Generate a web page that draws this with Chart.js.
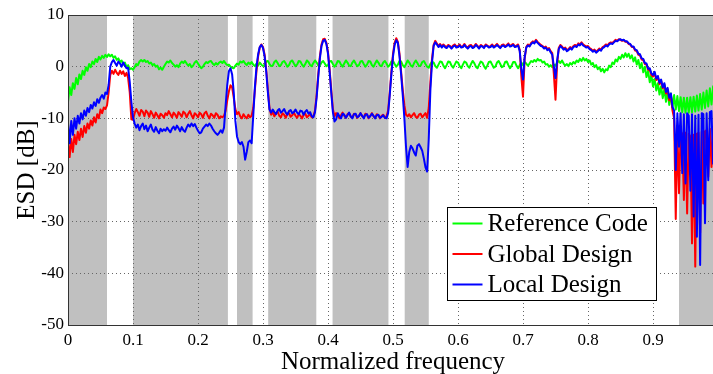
<!DOCTYPE html>
<html>
<head>
<meta charset="utf-8">
<title>ESD</title>
<script src="https://cdn.jsdelivr.net/npm/chart.js@4/dist/chart.umd.min.js"></script>
<style>
  html, body { margin: 0; padding: 0; overflow: hidden; background: #fff; }
  #wrap { width: 730px; height: 374px; }
</style>
</head>
<body>
<div id="wrap"><canvas id="esd-chart" width="730" height="374"></canvas></div>
<script>
// sampling step of the frequency axis (values below are read every 0.0025)
const STEP = 0.0025;

const seriesLabels = ["Reference Code", "Global Design", "Local Design"];

// Reference Code (green)
const green = [
  -6.8,-4.0,-5.5,-3.2,-4.3,-2.2,-3.4,-1.5,-2.4,-0.8,-1.6,-0.1,-0.8,0.5,-0.1,1.0,0.5,1.5,0.9,1.9,
  1.4,2.1,1.7,2.3,1.9,2.4,2.0,2.3,1.7,2.0,1.3,1.6,0.9,1.2,0.4,0.8,0.0,0.3,-0.5,-0.3,
  -0.6,-0.1,0.5,0.3,1.0,1.3,1.0,1.3,0.9,1.1,0.6,0.8,0.3,0.5,0.0,0.2,-0.5,-0.2,-0.6,0.0,
  0.5,1.0,0.8,1.2,0.7,0.4,0.0,0.3,-0.1,0.6,1.0,0.7,1.1,0.6,0.2,0.5,-0.1,0.2,0.8,1.1,
  0.6,0.1,-0.3,0.0,0.5,0.9,0.7,1.0,1.1,0.6,0.3,0.7,0.4,0.8,1.0,0.7,1.1,0.6,0.3,0.4,
  0.0,-0.2,-0.3,0.2,0.6,0.4,1.0,0.8,1.1,0.6,0.3,0.8,0.5,0.9,0.4,0.1,0.6,0.2,0.8,0.4,
  0.1,0.4,1.0,1.1,0.5,0.1,0.2,0.9,1.2,0.7,0.1,0.3,0.9,1.1,0.6,0.0,0.3,1.0,1.2,0.6,
  0.1,0.4,1.1,1.0,0.4,0.0,0.5,1.2,0.9,0.3,0.1,0.7,1.2,0.8,0.2,0.2,0.8,1.1,0.6,0.1,
  0.3,1.0,1.1,0.5,0.0,0.4,1.1,1.0,0.4,0.0,0.6,1.2,0.8,0.2,0.1,0.8,1.2,0.6,0.1,0.3,
  1.0,1.1,0.5,0.0,0.4,1.1,1.0,0.3,0.0,0.6,1.2,0.8,0.2,0.1,0.8,1.1,0.6,0.0,0.3,1.0,
  1.1,0.5,0.0,0.4,1.1,1.0,0.3,-0.1,0.5,1.2,0.8,0.2,0.0,0.7,1.2,0.7,0.1,0.2,0.9,1.1,
  0.5,0.0,-0.2,0.5,1.0,0.8,0.1,-0.2,0.4,1.0,0.9,0.2,-0.3,0.3,1.0,0.9,0.2,-0.2,0.4,1.0,
  0.8,0.1,-0.3,0.4,1.0,0.8,0.1,-0.2,0.5,1.1,0.7,0.0,-0.3,0.4,1.0,0.8,0.1,-0.4,0.2,0.9,
  1.0,0.4,-0.2,0.0,0.8,1.1,0.5,-0.1,0.1,0.9,1.0,0.3,-0.3,0.2,0.9,0.9,0.2,-0.3,0.3,0.8,
  0.3,0.9,0.6,0.2,0.6,1.1,0.9,1.3,1.0,1.5,1.2,1.3,0.8,1.0,0.4,0.5,0.0,0.3,-0.1,0.4,
  0.2,0.8,1.1,0.7,1.2,0.6,0.2,0.5,0.1,0.7,0.4,0.9,0.6,1.2,0.9,1.5,1.1,1.7,1.2,1.5,
  0.9,1.2,0.4,0.7,-0.1,0.3,-0.5,-0.1,-0.9,-0.4,-1.1,-0.5,-0.7,0.2,-0.1,0.8,0.5,1.4,1.0,1.9,
  1.5,2.3,1.8,2.6,1.9,2.5,1.6,2.2,1.0,1.8,0.4,1.3,-0.3,0.7,-1.1,0.0,-2.0,-0.8,-3.0,-1.6,
  -3.8,-2.4,-4.6,-3.2,-5.4,-3.8,-6.1,-4.3,-6.8,-4.8,-7.4,-5.2,-7.9,-5.5,-8.3,-5.7,-8.6,-5.9,-8.8,-6.0,
  -8.9,-6.0,-8.9,-5.9,-8.8,-5.8,-8.7,-5.6,-8.5,-5.3,-8.3,-5.0,-8.0,-4.6,-7.7,-4.2,-7.3,-3.8,-7.0,-3.5,-6.8
];

// Global Design (red)
const red = [
  -14.5,-17.5,-14.0,-16.5,-13.2,-15.0,-12.6,-14.2,-12.0,-13.6,-11.5,-12.8,-11.0,-12.0,-10.4,-11.4,-9.8,-10.8,-9.2,-10.0,
  -8.3,-9.0,-7.9,-8.2,-7.5,-5.0,-1.6,-0.8,-1.4,-0.6,-1.2,-1.6,-0.8,-1.4,-0.9,-1.8,-1.2,-2.2,-5.0,-10.2,
  -10.3,-9.0,-8.2,-8.8,-9.5,-8.4,-8.7,-9.6,-8.5,-8.9,-9.7,-8.6,-9.2,-9.9,-8.9,-9.4,-10.0,-9.1,-9.4,-9.9,
  -9.0,-9.4,-8.6,-9.2,-9.8,-8.9,-9.3,-9.9,-8.8,-9.2,-9.7,-8.7,-9.0,-9.8,-9.1,-8.6,-9.4,-10.0,-9.0,-9.3,
  -9.8,-8.9,-9.2,-9.9,-9.0,-8.7,-9.5,-10.0,-9.1,-9.4,-9.9,-9.0,-9.3,-10.0,-9.6,-9.8,-9.5,-8.5,-6.5,-4.8,
  -3.6,-4.0,-6.0,-8.2,-9.2,-8.8,-9.6,-10.0,-9.2,-9.7,-10.0,-9.3,-9.8,-9.5,-8.0,-4.5,-0.8,2.0,3.7,4.3,
  3.8,2.3,-0.5,-4.5,-8.0,-9.3,-8.8,-9.6,-9.0,-8.7,-9.5,-9.8,-9.0,-9.3,-9.9,-9.1,-9.0,-9.7,-9.4,-8.9,
  -9.5,-9.9,-9.2,-9.5,-10.0,-9.3,-9.1,-9.8,-9.5,-9.2,-9.8,-9.6,-8.5,-5.5,-1.5,2.0,4.3,5.3,5.4,4.6,
  2.8,-0.5,-4.5,-8.2,-9.6,-9.0,-9.3,-10.0,-9.4,-8.9,-9.5,-9.9,-9.2,-9.0,-9.7,-9.8,-9.1,-9.3,-9.9,-9.5,
  -9.0,-9.6,-9.8,-9.1,-9.3,-10.0,-9.5,-9.0,-9.6,-9.9,-9.2,-9.4,-10.0,-9.5,-9.3,-9.9,-9.6,-8.5,-5.0,-1.0,
  2.5,4.6,5.5,4.8,2.5,-1.0,-4.5,-7.5,-9.3,-9.6,-9.2,-9.8,-9.4,-9.0,-9.7,-9.9,-9.3,-9.1,-9.8,-9.4,
  -9.0,-9.9,-8.0,-3.0,1.5,4.2,5.0,4.5,4.0,4.4,3.9,4.3,4.0,3.8,4.2,4.0,3.7,4.1,4.3,3.9,
  4.0,4.3,3.8,4.0,4.4,3.9,3.7,4.1,4.2,3.8,4.0,4.4,4.0,3.7,4.2,4.0,3.8,4.3,4.1,3.8,
  4.0,4.3,3.9,4.1,4.4,4.0,3.7,4.2,4.3,3.9,4.2,4.5,4.0,4.2,4.4,3.9,4.1,4.3,3.2,-2.0,
  -5.8,1.5,3.8,4.3,4.0,4.6,4.9,4.7,5.2,4.8,4.5,4.2,4.0,3.7,3.9,3.4,3.6,3.0,2.6,-1.5,
  -6.4,0.5,3.6,4.2,3.9,3.5,3.7,3.2,3.4,3.8,3.5,4.0,4.2,4.0,4.5,4.3,4.7,4.3,4.1,3.9,
  4.0,3.6,3.4,3.1,3.3,2.9,3.2,3.5,3.3,3.8,4.0,4.3,4.1,4.5,4.7,4.6,4.9,5.2,5.0,5.3,
  5.2,5.0,5.1,4.8,4.8,4.4,4.3,3.8,3.8,3.1,3.0,2.3,2.2,1.4,1.3,0.5,0.4,-0.6,-0.6,-1.6,
  -1.9,-1.2,-2.6,-2.0,-3.4,-2.7,-4.2,-3.5,-5.2,-4.4,-6.5,-5.6,-8.5,-10.0,-29.5,-12.0,-24.5,-12.5,-13.0,-25.8,
  -12.8,-28.4,-13.0,-13.5,-34.2,-13.2,-38.7,-13.0,-12.8,-32.2,-12.6,-26.5,-12.5,-12.3,-21.3,-12.0,-19.4,-11.8,-11.5,-17.0,-11.5
];

// Local Design (blue)
const blue = [
  -10.8,-14.8,-10.5,-13.2,-10.0,-12.0,-9.5,-11.0,-9.0,-10.2,-8.5,-9.5,-8.0,-8.8,-7.4,-8.1,-6.9,-7.6,-6.3,-7.0,
  -6.0,-5.5,-6.2,-5.0,-5.3,-3.5,0.0,0.9,1.3,0.7,0.2,1.0,0.6,0.0,0.8,0.2,-0.3,-0.2,-3.0,-6.8,
  -9.8,-11.0,-11.8,-11.2,-12.3,-11.5,-11.0,-12.1,-11.4,-12.5,-11.8,-11.2,-12.2,-12.6,-11.7,-12.4,-12.9,-12.0,-12.5,-12.1,
  -12.4,-11.8,-12.3,-12.7,-12.0,-11.6,-12.2,-11.4,-11.9,-12.5,-11.7,-12.3,-12.6,-11.8,-11.2,-11.6,-11.0,-11.5,-11.1,-11.8,
  -12.4,-12.9,-12.7,-12.0,-11.6,-11.2,-11.5,-11.0,-11.4,-12.0,-12.5,-12.9,-13.2,-12.8,-12.3,-12.8,-11.8,-7.5,-3.5,-0.9,
  -0.3,-1.5,-5.0,-10.5,-13.5,-14.6,-15.0,-14.6,-15.5,-18.0,-16.5,-14.6,-14.3,-14.8,-9.5,-4.0,0.0,2.4,3.8,4.2,
  3.6,2.0,-1.0,-5.0,-8.3,-8.9,-8.3,-8.8,-9.2,-8.5,-8.2,-8.9,-8.6,-8.2,-8.9,-9.3,-8.6,-8.4,-9.0,-8.8,
  -8.3,-8.9,-9.2,-8.5,-8.6,-9.3,-8.7,-8.4,-9.1,-8.8,-9.6,-9.8,-8.8,-6.0,-2.0,1.6,4.0,5.0,5.2,4.4,
  2.5,-1.0,-5.0,-8.8,-10.6,-10.2,-9.0,-9.6,-10.0,-9.1,-9.3,-9.9,-9.4,-8.9,-9.6,-10.0,-9.2,-9.1,-9.8,-9.6,
  -9.0,-9.5,-10.0,-9.3,-9.2,-9.9,-9.6,-9.1,-9.5,-10.0,-9.4,-9.3,-9.9,-9.7,-9.4,-9.9,-10.0,-9.0,-5.5,-1.5,
  2.0,4.2,5.1,4.6,2.0,-1.5,-5.5,-10.0,-15.5,-19.4,-16.5,-15.3,-15.8,-16.6,-17.2,-15.3,-15.0,-15.6,-16.3,-17.8,
  -19.5,-20.3,-14.0,-4.5,0.8,4.0,4.7,4.3,3.8,4.2,3.7,4.1,3.8,3.6,4.0,3.9,3.5,3.9,4.1,3.7,
  3.8,4.1,3.7,3.8,4.2,3.8,3.5,3.9,4.0,3.6,3.8,4.2,3.9,3.5,4.0,3.9,3.6,4.1,4.0,3.7,
  3.8,4.1,3.7,3.9,4.2,3.9,3.6,4.0,4.1,3.8,4.0,4.3,3.9,4.0,4.2,3.8,3.9,4.1,3.0,-0.5,
  -2.5,1.8,3.7,4.1,3.9,4.4,4.7,4.5,5.0,4.6,4.3,4.0,3.9,3.5,3.7,3.2,3.4,2.8,2.3,0.0,
  -2.2,1.2,3.4,4.0,3.7,3.3,3.5,3.0,3.2,3.6,3.3,3.8,4.0,3.8,4.3,4.1,4.5,4.1,3.9,3.7,
  3.8,3.4,3.2,2.9,3.1,2.7,3.0,3.3,3.1,3.6,3.8,4.1,3.9,4.3,4.5,4.4,4.7,5.0,4.9,5.2,
  5.3,5.1,5.2,4.9,4.9,4.5,4.4,3.9,3.9,3.3,3.2,2.5,2.4,1.6,1.5,0.7,0.6,-0.4,-0.3,-1.3,
  -1.6,-1.0,-2.3,-1.8,-3.1,-2.5,-4.0,-3.2,-4.9,-4.1,-6.0,-5.2,-7.8,-8.5,-20.0,-9.0,-15.5,-9.0,-20.6,-9.2,
  -22.6,-9.0,-9.5,-24.0,-9.2,-29.0,-9.5,-32.9,-9.3,-38.4,-9.0,-9.2,-30.3,-9.0,-22.0,-8.8,-8.6,-18.8,-8.5,-15.0,-8.3
];

// stop bands (shaded grey)
const bandStart = [0, 0.1, 0.26, 0.308, 0.407, 0.518, 0.94];
const bandEnd = [0.06, 0.246, 0.284, 0.382, 0.493, 0.555, 1];

const xTicks = [0, 0.1, 0.2, 0.3, 0.4, 0.5, 0.6, 0.7, 0.8, 0.9, 1];
const yTicks = [-50, -40, -30, -20, -10, 0, 10];

const toPoints = (arr) => arr.map((v, i) => ({ x: i * STEP, y: v }));

Chart.defaults.font.family = "'Liberation Serif', 'Times New Roman', serif";
Chart.defaults.color = "#000";

const bandsPlugin = {
  id: "bands",
  beforeDraw(chart) {
    const { ctx, chartArea, scales } = chart;
    ctx.save();
    ctx.fillStyle = "#c0c0c0";
    for (let i = 0; i < bandStart.length; i++) {
      const x0 = scales.x.getPixelForValue(bandStart[i]);
      const x1 = scales.x.getPixelForValue(bandEnd[i]);
      ctx.fillRect(x0, chartArea.top, x1 - x0, chartArea.bottom - chartArea.top);
    }
    ctx.restore();
  },
  afterDatasetsDraw(chart) {
    const { ctx, chartArea } = chart;
    ctx.save();
    ctx.strokeStyle = "#333";
    ctx.lineWidth = 1;
    ctx.strokeRect(Math.round(chartArea.left) + 0.5, Math.round(chartArea.top) + 0.5,
      Math.round(chartArea.right - chartArea.left), Math.round(chartArea.bottom - chartArea.top));
    ctx.restore();
  },
};

// legend box drawn inside the plot, lower right
const boxLegend = {
  id: "boxLegend",
  afterDraw(chart) {
    const { ctx, chartArea } = chart;
    const w = 209, h = 93;
    const left = Math.round(chartArea.right - 62 - w) + 0.5;
    const top = Math.round(chartArea.bottom - 25 - h) + 0.5;
    ctx.save();
    ctx.fillStyle = "#fff";
    ctx.fillRect(left, top, w, h);
    ctx.strokeStyle = "#000";
    ctx.lineWidth = 1;
    ctx.strokeRect(left, top, w, h);
    ctx.font = "25px 'Liberation Serif', 'Times New Roman', serif";
    ctx.textBaseline = "middle";
    ctx.textAlign = "left";
    chart.data.datasets.forEach((ds, k) => {
      const y = top + 16 + k * 30.5;
      ctx.strokeStyle = ds.borderColor;
      ctx.lineWidth = 2;
      ctx.beginPath();
      ctx.moveTo(left + 5, y);
      ctx.lineTo(left + 35, y);
      ctx.stroke();
      ctx.fillStyle = "#000";
      ctx.fillText(ds.label, left + 40, y + 1);
    });
    ctx.restore();
  },
};

const ctx = document.getElementById("esd-chart").getContext("2d");
new Chart(ctx, {
  type: "line",
  data: {
    datasets: [
      { label: seriesLabels[0], data: toPoints(green), borderColor: "#00ff00", order: 2 },
      { label: seriesLabels[1], data: toPoints(red), borderColor: "#ff0000", order: 1 },
      { label: seriesLabels[2], data: toPoints(blue), borderColor: "#0000ff", order: 0 },
    ],
  },
  options: {
    responsive: false,
    animation: false,
    devicePixelRatio: 1,
    elements: {
      point: { radius: 0 },
      line: { borderWidth: 2, tension: 0, borderJoinStyle: "round", fill: false },
    },
    // right edge of the plot falls just outside the 713px window, like the reference crop
    layout: { padding: { top: 15, right: 12, bottom: 0, left: 0 } },
    plugins: { legend: { display: false }, tooltip: { enabled: false } },
    scales: {
      x: {
        type: "linear",
        min: 0,
        max: 1,
        afterBuildTicks: (s) => { s.ticks = xTicks.map((v) => ({ value: v })); },
        afterFit: (s) => { s.height = 49; },
        ticks: {
          padding: 5,
          maxRotation: 0,
          autoSkip: false,
          font: { size: 17 },
          callback: (v) => String(+v.toFixed(1)),
        },
        grid: { color: "#666", lineWidth: 1, drawTicks: false },
        border: { display: false, dash: [1, 3] },
        title: { display: true, text: "Normalized frequency", font: { size: 25 }, padding: { top: 0, bottom: -3 } },
      },
      y: {
        min: -50,
        max: 10,
        afterBuildTicks: (s) => { s.ticks = yTicks.map((v) => ({ value: v })); },
        afterFit: (s) => { s.width = 68; },
        ticks: { padding: 4, font: { size: 17 }, callback: (v) => String(v) },
        grid: { color: "#666", lineWidth: 1, drawTicks: false },
        border: { display: false, dash: [1, 3] },
        title: { display: true, text: "ESD [dB]", font: { size: 25 }, padding: { top: 12, bottom: 0 } },
      },
    },
  },
  plugins: [bandsPlugin, boxLegend],
});
</script>
</body>
</html>
